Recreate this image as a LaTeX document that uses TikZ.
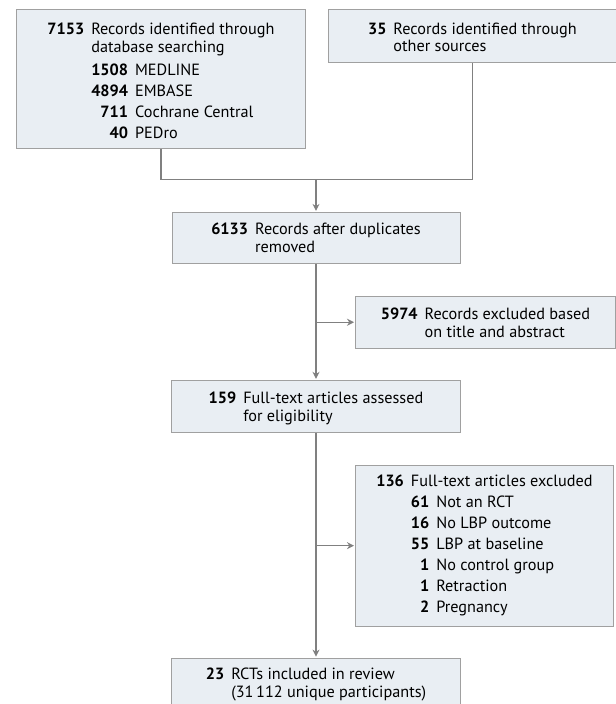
\documentclass[tikz,border=0pt]{standalone}
\usepackage{fontspec}
\setmainfont{PT Sans}
\usetikzlibrary{arrows.meta}
\usetikzlibrary{positioning}

\definecolor{boxfill}{RGB}{233,238,243}
\definecolor{boxline}{RGB}{160,160,160}
\definecolor{flowline}{RGB}{128,128,128}

\newcommand{\numlist}[1]{\begin{tabular}{@{}r@{\hspace{7bp}}l@{}}#1\end{tabular}}
\newcommand{\numtab}[2][5bp]{\begin{tabular}{@{}r@{\hspace{7bp}}l@{}}\noalign{\vspace{#1}}#2\end{tabular}}

\begin{document}
\begin{tikzpicture}[x=1bp,y=1bp,
	box/.style={draw=boxline, fill=boxfill, line width=0.9bp, align=left, inner sep=0pt, font=\fontsize{16.3}{18}\selectfont},
	link/.style={draw=flowline, line width=1.1bp},
	flow/.style={link, -{Stealth[length=7bp,width=7bp]}, shorten >=1bp}]

	\useasboundingbox (0,0) rectangle (616,704);

	\node(db) [box, minimum width=289bp, minimum height=139bp, anchor=north west] at (16,695) {%
		\numtab[8bp]{\textbf{7153} & Records identified through\\
			& database searching\\[3bp]
			& {\renewcommand{\arraystretch}{1.17}\numlist{\textbf{1508} & MEDLINE\\ \textbf{4894} & EMBASE\\ \textbf{711} & Cochrane Central\\ \textbf{40} & PEDro}}}};
	\node(other) [box, right=22bp of db.north east, anchor=north west, minimum width=288bp, minimum height=53bp] {%
		\numtab[7bp]{\textbf{35} & Records identified through\\ & other sources}};

	\coordinate (merge) at ([yshift=-31bp] db.south -| 316,0);

	\node(dup) [box, below=32bp of merge, minimum width=288bp, minimum height=51bp] {%
		\numtab{\textbf{6133} & Records after duplicates\\ & removed}};
	\node(screenx) [box, anchor=north west, minimum width=260bp, minimum height=52bp] at ([xshift=39bp, yshift=-32bp] dup.south east -| 316,0) {%
		\numtab{\textbf{5974} & Records excluded based\\ & on title and abstract}};
	\node(full) [box, below=116bp of dup, minimum width=289bp, minimum height=52bp] {%
		\numtab{\textbf{159} & Full-text articles assessed\\ & for eligibility}};
	\node(fullx) [box, anchor=north west, minimum width=258bp, minimum height=161bp] at ([yshift=-32bp] screenx.west |- full.south) {%
		{\renewcommand{\arraystretch}{1.17}\numtab[0bp]{\textbf{136} & Full-text articles excluded\\
			& \numlist{\textbf{61} & Not an RCT\\ \textbf{16} & No LBP outcome\\ \textbf{55} & LBP at baseline\\ \textbf{1} & No control group\\ \textbf{1} & Retraction\\ \textbf{2} & Pregnancy}}}};
	\node(incl) [box, anchor=north, minimum width=289bp, minimum height=52bp] at ([yshift=-31bp] fullx.south -| full.south) {%
		\numtab[2bp]{\textbf{23} & RCTs included in review\\ & (31\,112 unique participants)}};

	\coordinate (split1) at (dup.south |- screenx.west);
	\coordinate (split2) at (full.south |- fullx.west);

	\draw[link] (db.south) |- (merge) -| (other.south);
	\draw[flow] (merge) -- (dup.north);
	\draw[flow] (dup.south) -- (full.north);
	\draw[flow] (split1) -- (screenx.west);
	\draw[flow] (full.south) -- (incl.north);
	\draw[flow] (split2) -- (fullx.west);

\end{tikzpicture}
\end{document}
